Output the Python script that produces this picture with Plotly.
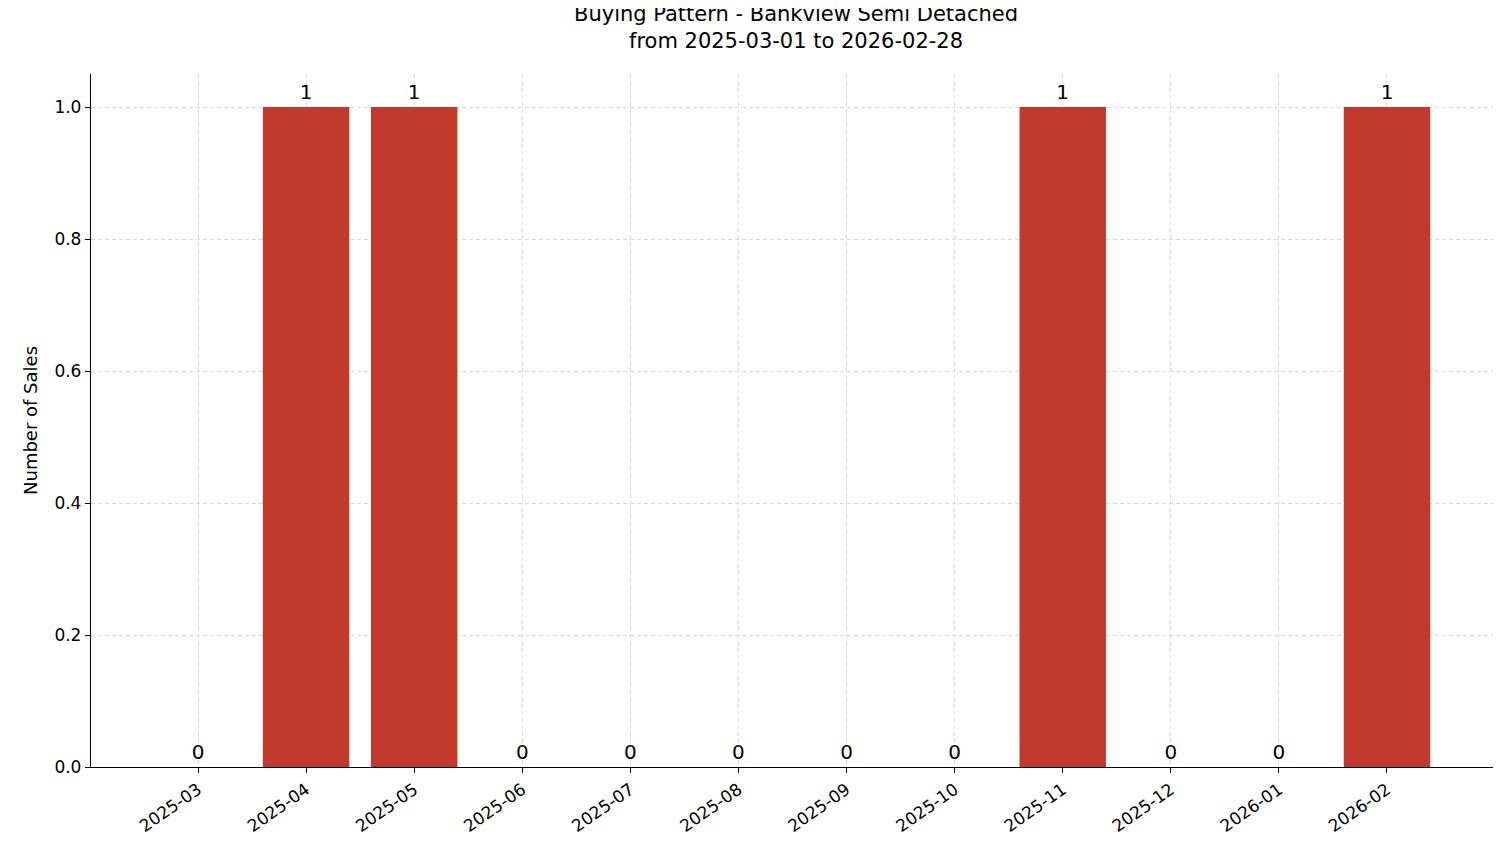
import plotly.graph_objects as go

months = ["2025-03","2025-04","2025-05","2025-06","2025-07","2025-08","2025-09","2025-10","2025-11","2025-12","2026-01","2026-02"]
sales = [0,1,1,0,0,0,0,0,1,0,0,1]

fig = go.Figure(go.Bar(
    x=list(range(len(months))), y=sales, width=0.8,
    marker=dict(color="#c0392b", line=dict(width=0)),
    text=[str(v) for v in sales], textposition="outside",
    textfont=dict(size=20, color="black"), cliponaxis=False,
))
fig.update_layout(
    width=1501, height=863, plot_bgcolor="white", paper_bgcolor="white",
    font=dict(family="DejaVu Sans", size=17, color="black"),
    margin=dict(l=83, r=15, t=66, b=104, autoexpand=False),
    title=dict(text="Buying Pattern - Bankview Semi Detached<br>from 2025-03-01 to 2026-02-28",
               x=0.525, xanchor="center", y=0.985, yanchor="top", font=dict(size=21)),
    showlegend=False,
)
fig.update_xaxes(range=[-0.99, 11.99], tickvals=list(range(len(months))), ticktext=months,
                 tickangle=-35, showline=True, linecolor="black", linewidth=1.3,
                 ticks="outside", ticklen=5, tickcolor="black", automargin=False,
                 showgrid=True, gridcolor="#d9d9d9", griddash="4px,3px", gridwidth=0.8, zeroline=False)
fig.update_yaxes(range=[0, 1.05], tickvals=[0,0.2,0.4,0.6,0.8,1.0], tickformat=".1f",
                 title=dict(text="Number of Sales", font=dict(size=18), standoff=12),
                 showline=True, linecolor="black", linewidth=1.3, automargin=False,
                 ticks="outside", ticklen=5, tickcolor="black",
                 showgrid=True, gridcolor="#d9d9d9", griddash="4px,3px", gridwidth=0.8, zeroline=False)
fig.write_html("out.html")
